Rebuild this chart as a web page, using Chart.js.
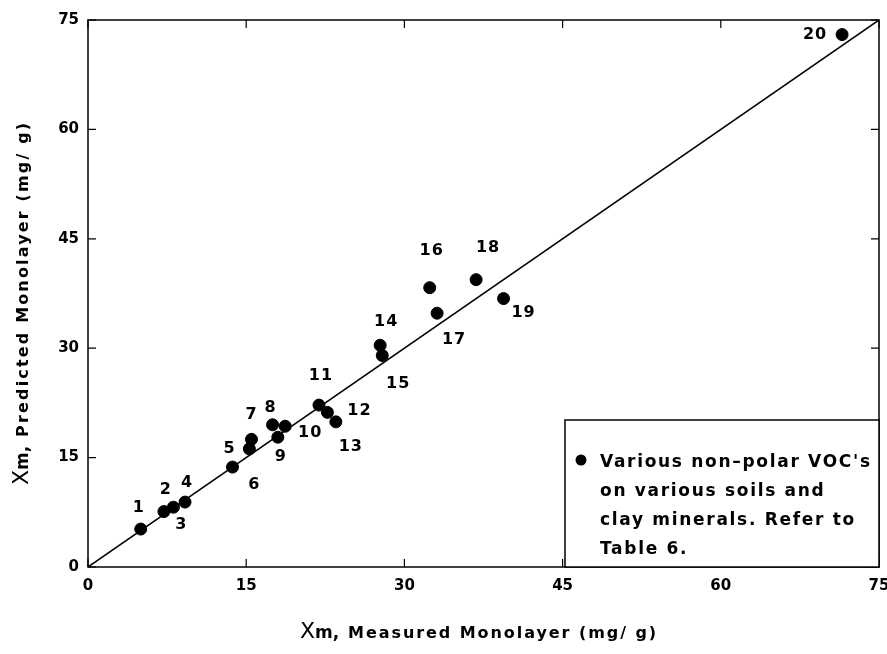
<!DOCTYPE html>
<html>
<head>
<meta charset="utf-8">
<script src="https://cdn.jsdelivr.net/npm/chart.js@4/dist/chart.umd.min.js"></script>
<style>
  html, body { margin: 0; padding: 0; background: #fff; }
  #wrap { width: 887px; height: 654px; }
</style>
</head>
<body>
<div id="wrap"><canvas id="xmChart" width="887" height="654"></canvas></div>
<script>
// measured vs predicted monolayer, mg/g
const ids = ['1','2','3','4','5','6','7','8','9','10','11','12','13','14','15','16','17','18','19','20'];
const measured  = [5.0, 7.2, 8.1, 9.2, 13.7, 15.3, 15.5, 17.5, 18.0, 18.7, 21.9, 22.7, 23.5, 27.7, 27.9, 32.4, 33.1, 36.8, 39.4, 71.5];
const predicted = [5.2, 7.6, 8.2, 8.9, 13.7, 16.2, 17.5, 19.5, 17.8, 19.3, 22.2, 21.2, 19.9, 30.4, 29.0, 38.3, 34.8, 39.4, 36.8, 73.0];
const fitX = [0, 75];
const fitY = [0, 75];
const axisTicks = [0, 15, 30, 45, 60, 75];
const legendLines = ["Various non\u2013polar VOC's", 'on various soils and', 'clay minerals. Refer to', 'Table 6.'];

// where each number sits relative to its dot (px)
const labelOffsets = [[-2,-21],[2,-22],[8,18],[2,-19],[-3,-18],[5,36],[0,-25],[-2,-17],[3,20],[25,7],
                      [2,-29],[32,-2],[15,25],[6,-23],[16,28],[2,-37],[17,27],[12,-32],[20,14],[-27,0]];

const FONT = '"DejaVu Sans", sans-serif';

// letter spacing that makes text fill a given width
function fitSpacing(ctx, text, width) {
  ctx.letterSpacing = '0px';
  const w0 = ctx.measureText(text).width;
  return Math.max(0, (width - w0) / (text.length - 1));
}

const framePlugin = {
  id: 'frame',
  afterDatasetsDraw(chart) {
    const {ctx, chartArea: a, scales: {x, y}} = chart;
    ctx.save();
    ctx.strokeStyle = '#000';
    ctx.lineWidth = 1.5;
    ctx.strokeRect(a.left, a.top, a.right - a.left, a.bottom - a.top);
    ctx.lineWidth = 1.2;
    const tl = 8;
    axisTicks.forEach(v => {
      const px = x.getPixelForValue(v), py = y.getPixelForValue(v);
      ctx.beginPath();
      ctx.moveTo(px, a.bottom); ctx.lineTo(px, a.bottom - tl);
      ctx.moveTo(px, a.top); ctx.lineTo(px, a.top + tl);
      ctx.moveTo(a.left, py); ctx.lineTo(a.left + tl, py);
      ctx.moveTo(a.right, py); ctx.lineTo(a.right - tl, py);
      ctx.stroke();
    });
    // point numbers
    const meta = chart.getDatasetMeta(0);
    ctx.fillStyle = '#000';
    ctx.font = 'bold 16px ' + FONT;
    ctx.letterSpacing = '1px';
    ctx.textAlign = 'center';
    ctx.textBaseline = 'middle';
    meta.data.forEach((pt, i) => {
      const o = labelOffsets[i];
      ctx.fillText(ids[i], pt.x + o[0], pt.y + o[1]);
    });
    // legend box
    const bx = 565, by = 420;
    ctx.fillStyle = '#fff';
    ctx.fillRect(bx, by, a.right - bx, a.bottom - by);
    ctx.lineWidth = 1.5;
    ctx.strokeRect(bx, by, a.right - bx, a.bottom - by);
    ctx.fillStyle = '#000';
    ctx.beginPath();
    ctx.arc(bx + 16, by + 40, 5.5, 0, Math.PI * 2);
    ctx.fill();
    ctx.textAlign = 'left';
    ctx.font = 'bold 17px ' + FONT;
    const sp = fitSpacing(ctx, legendLines[0], 270);
    ctx.letterSpacing = sp + 'px';
    legendLines.forEach((t, i) => ctx.fillText(t, bx + 35, by + 43 + i * 29));
    ctx.restore();
  }
};

const titlePlugin = {
  id: 'axisTitles',
  afterDraw(chart) {
    const {ctx} = chart;
    const drawTitle = (rest, restWidth) => {
      ctx.textBaseline = 'alphabetic';
      ctx.textAlign = 'left';
      ctx.letterSpacing = '0px';
      ctx.font = '22px ' + FONT;
      const w1 = ctx.measureText('X').width;
      ctx.font = 'bold 17px ' + FONT;
      const w2 = ctx.measureText('m,').width;
      ctx.font = 'bold 16px ' + FONT;
      const sp = fitSpacing(ctx, rest, restWidth);
      const total = w1 + w2 + 9 + restWidth;
      let cx = -total / 2;
      ctx.letterSpacing = '0px';
      ctx.font = '22px ' + FONT;
      ctx.fillText('X', cx, 0); cx += w1;
      ctx.font = 'bold 17px ' + FONT;
      ctx.fillText('m,', cx, 0); cx += w2 + 9;
      ctx.font = 'bold 16px ' + FONT;
      ctx.letterSpacing = sp + 'px';
      ctx.fillText(rest, cx, 0);
    };
    ctx.save();
    ctx.fillStyle = '#000';
    ctx.translate(478, 638);
    drawTitle('Measured Monolayer (mg/ g)', 308);
    ctx.restore();
    ctx.save();
    ctx.fillStyle = '#000';
    ctx.translate(28, 304);
    ctx.rotate(-Math.PI / 2);
    drawTitle('Predicted Monolayer (mg/ g)', 314);
    ctx.restore();
  }
};

new Chart(document.getElementById('xmChart'), {
  type: 'scatter',
  data: {
    datasets: [{
      label: 'points',
      data: measured.map((v, i) => ({x: v, y: predicted[i]})),
      backgroundColor: '#000',
      borderColor: '#000',
      pointRadius: 6,
      pointHoverRadius: 6
    }, {
      label: 'fit',
      data: fitX.map((v, i) => ({x: v, y: fitY[i]})),
      showLine: true,
      borderColor: '#000',
      borderWidth: 1.5,
      pointRadius: 0
    }]
  },
  options: {
    responsive: false,
    animation: false,
    layout: {padding: {left: 0, right: 8, top: 20, bottom: 0}},
    plugins: {legend: {display: false}, tooltip: {enabled: false}},
    scales: {
      x: {
        type: 'linear', min: 0, max: 75,
        afterBuildTicks: s => { s.ticks = axisTicks.map(v => ({value: v})); },
        afterFit: s => { s.height = 87; s.paddingLeft = 0; s.paddingRight = 0; },
        grid: {display: false, drawTicks: false},
        border: {display: false},
        ticks: {color: '#000', padding: 10, font: {family: FONT, size: 15, weight: 'bold'}}
      },
      y: {
        type: 'linear', min: 0, max: 75,
        afterBuildTicks: s => { s.ticks = axisTicks.map(v => ({value: v})); },
        afterFit: s => { s.width = 88; s.paddingTop = 0; s.paddingBottom = 0; },
        grid: {display: false, drawTicks: false},
        border: {display: false},
        ticks: {color: '#000', padding: 9, font: {family: FONT, size: 15, weight: 'bold'}}
      }
    }
  },
  plugins: [framePlugin, titlePlugin]
});
</script>
</body>
</html>
